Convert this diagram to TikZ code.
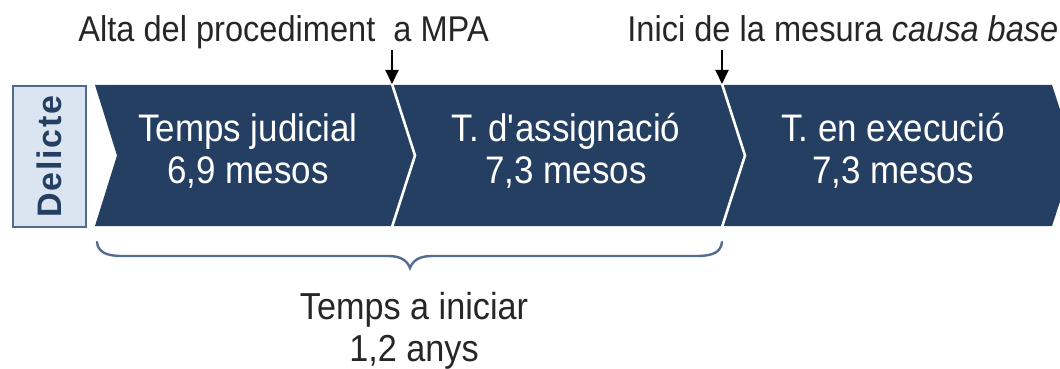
\documentclass[tikz,border=0pt]{standalone}
\usepackage{fontspec}
\setmainfont{Liberation Sans}[FakeStretch=0.91]
\newfontfamily\delfont{Liberation Sans}[LetterSpace=5]
\usetikzlibrary{arrows.meta}
\definecolor{navy}{RGB}{36,63,98}
\definecolor{paleblue}{RGB}{219,229,241}
\definecolor{edgeblue}{RGB}{80,106,140}
\definecolor{bracecol}{RGB}{84,108,142}
\tikzset{
  toplabel/.style={anchor=base west,inner sep=0pt,font=\fontsize{17.9pt}{20pt}\selectfont,text=black!85},
  phasetext/.style={anchor=center,inner sep=0pt,align=center,text=white,font=\fontsize{19.2pt}{21pt}\selectfont},
  bottomtext/.style={anchor=north,inner sep=0pt,align=center,text=black!85,font=\fontsize{18.8pt}{20.8pt}\selectfont},
  divider/.style={draw=white,line width=1.3pt},
  marker/.style={draw=black,line width=1pt,-{Triangle[length=7pt,width=6.5pt]}},
}
\begin{document}
\begin{tikzpicture}[x=0.5pt,y=-0.5pt]
\useasboundingbox (0,0) rectangle (1060,369);
% Delicte box
\node[draw=edgeblue,line width=1pt,fill=paleblue,minimum width=36.5pt,minimum height=70.5pt,inner sep=0pt,anchor=north west] (del) at (12,85) {};
\node[rotate=90,inner sep=0pt,text=navy,font=\delfont\bfseries\fontsize{17pt}{19pt}\selectfont] (deltext) at (del.center) {Delicte};
% Band
\path[fill=navy] (95,85) coordinate (bandtl) -- (1052,85) -- (1075,155.5) -- (1052,226) -- (95,226) -- (117,155.5) -- cycle;
% dividers
\coordinate (d1t) at (392,84);
\coordinate (d1m) at (415,155.5);
\coordinate (d1b) at (392,227);
\coordinate (d2t) at (722,84);
\coordinate (d2m) at (745,155.5);
\coordinate (d2b) at (722,227);
\draw[divider] (d1t) -- (d1m) -- (d1b);
\draw[divider] (d2t) -- (d2m) -- (d2b);
% phase texts
\node[phasetext] (p1) at (248,151) {Temps judicial\\6,9 mesos};
\node[phasetext] (p2) at (566,151) {T. d\textquotesingle assignació\\7,3 mesos};
\node[phasetext] (p3) at (893,151) {T. en execució\\7,3 mesos};
% top labels
\node[toplabel] (lab1) at (78,42) {Alta del procediment\ \ a MPA};
\node[toplabel] (lab2) at (627,42) {Inici de la mesura \textit{causa base}};
\coordinate (a1s) at (392,50);
\coordinate (a2s) at (722,50);
\draw[marker] (a1s) -- (d1t);
\draw[marker] (a2s) -- (d2t);
% brace
\coordinate (bl) at (97,242);
\coordinate (br) at (722,242);
\coordinate (btip) at (410,268);
\draw[bracecol,line width=1.2pt,line cap=round]
  (bl) .. controls (98,252) and (106,256) .. (122,256)
  -- (388,256) .. controls (400,256) and (407,260) .. (btip)
  .. controls (413,260) and (420,256) .. (432,256)
  -- (697,256) .. controls (713,256) and (721,252) .. (br);
% bottom text
\node[bottomtext] (tot) at (414,292) {Temps a iniciar\\1,2 anys};
\end{tikzpicture}
\end{document}
